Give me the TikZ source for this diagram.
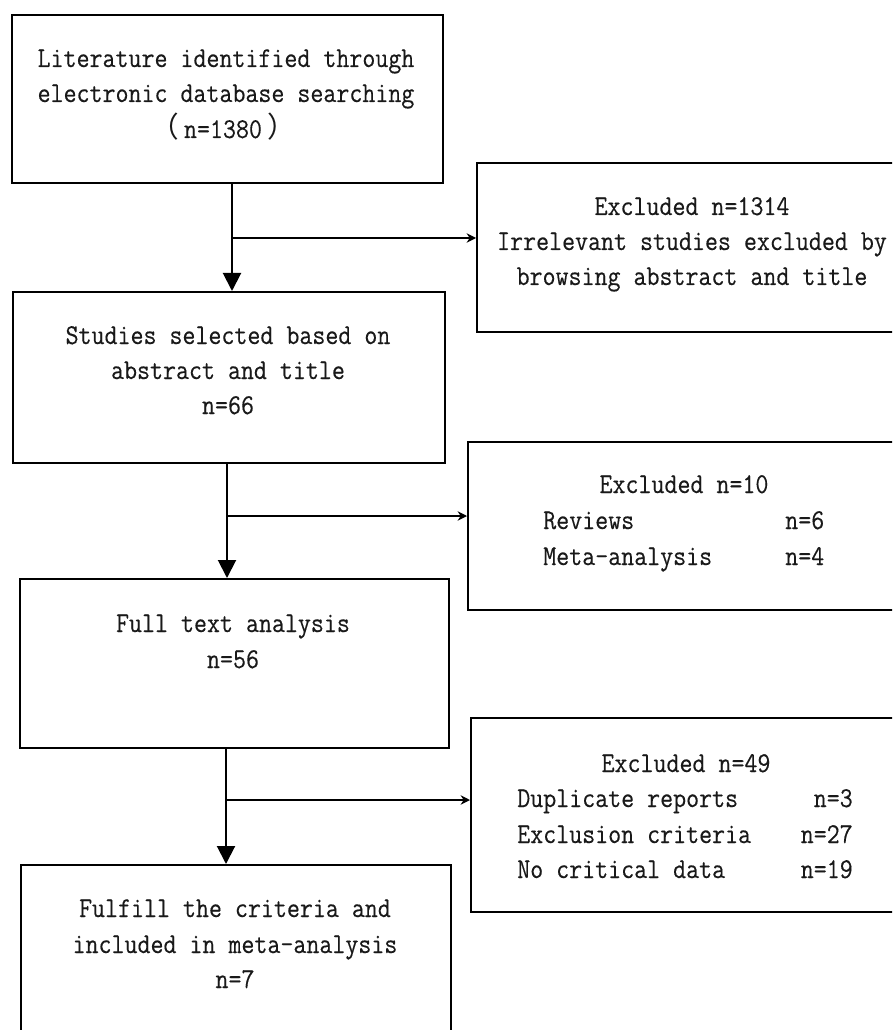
\documentclass[tikz,border=0pt]{standalone}
\usepackage{fontspec}
\newfontfamily\cjk{Noto Sans CJK SC}
\newfontfamily\monofont[FakeStretch=0.88,FakeBold=0.3]{Latin Modern Mono}
\usetikzlibrary{arrows.meta}
\tikzset{
  box/.style={draw=black, line width=1.5pt, inner sep=0pt, fill=white},
  txt/.style={font=\monofont\fontsize{21.5}{26}\selectfont, inner sep=0pt, text=black!90},
  vline/.style={line width=1.5pt, -{Triangle[length=13.5pt,width=13.5pt]}},
  hline/.style={line width=1.5pt, -{Stealth[length=7pt,width=7pt]}}
}
\begin{document}
\begin{tikzpicture}[x=0.75pt,y=-0.75pt]
\useasboundingbox[fill=white] (0,0) rectangle (892,1030);
\clip (0,0) rectangle (892,1030);
% boxes
\node[box, minimum width=323.25pt, minimum height=126pt] (b1) at (227.5,99) {};
\node[box, minimum width=324.75pt, minimum height=126.75pt] (b2) at (693.5,247.5) {};
\node[box, minimum width=324pt, minimum height=128.25pt] (b3) at (229,377.5) {};
\node[box, minimum width=331.5pt, minimum height=126pt] (b4) at (689,526) {};
\node[box, minimum width=321.75pt, minimum height=126.75pt] (b5) at (234.5,663.5) {};
\node[box, minimum width=329.25pt, minimum height=145.5pt] (b6) at (690.5,815) {};
\node[box, minimum width=322.5pt, minimum height=126.75pt] (b7) at (236,949.5) {};
% texts
\node[txt, anchor=base] (t11) at (226,67) {Literature identified through};
\node[txt, anchor=base] (t12) at (226,102) {electronic database searching};
\node[txt, anchor=base] (t13) at (223,138) {{\cjk （}\kern4pt n=1380\kern4pt{\cjk ）}};
\node[txt, anchor=base] (t21) at (692,215) {Excluded n=1314};
\node[txt, anchor=base] (t22) at (692,250) {Irrelevant studies excluded by};
\node[txt, anchor=base] (t23) at (692,285) {browsing abstract and title};
\node[txt, anchor=base] (t31) at (228,344) {Studies selected based on};
\node[txt, anchor=base] (t32) at (228,379) {abstract and title};
\node[txt, anchor=base] (t33) at (228,414) {n=66};
\node[txt, anchor=base] (t41) at (684,493) {Excluded n=10};
\node[txt, anchor=base west] (t42) at (543,529) {Reviews};
\node[txt, anchor=base west] (t43) at (785,529) {n=6};
\node[txt, anchor=base west] (t44) at (543,565) {Meta-analysis};
\node[txt, anchor=base west] (t45) at (785,565) {n=4};
\node[txt, anchor=base] (t51) at (233,632) {Full text analysis};
\node[txt, anchor=base] (t52) at (233,668) {n=56};
\node[txt, anchor=base] (t61) at (686,772) {Excluded n=49};
\node[txt, anchor=base west] (t62) at (517,807) {Duplicate reports};
\node[txt, anchor=base east] (t63) at (853,807) {n=3};
\node[txt, anchor=base west] (t64) at (517,843) {Exclusion criteria};
\node[txt, anchor=base east] (t65) at (853,843) {n=27};
\node[txt, anchor=base west] (t66) at (517,878) {No critical data};
\node[txt, anchor=base east] (t67) at (853,878) {n=19};
\node[txt, anchor=base] (t71) at (235,917) {Fulfill the criteria and};
\node[txt, anchor=base] (t72) at (235,953) {included in meta-analysis};
\node[txt, anchor=base] (t73) at (235,988) {n=7};
% connector coordinates
\coordinate (x1) at (232,0);
\coordinate (x2) at (227,0);
\coordinate (x3) at (226,0);
\coordinate (y1) at (0,238);
\coordinate (y2) at (0,516);
\coordinate (y3) at (0,800);
% connectors
\draw[vline] (b1.south -| x1) -- (b3.north -| x1);
\draw[hline] (x1 |- y1) -- (b2.west |- y1);
\draw[vline] (b3.south -| x2) -- (b5.north -| x2);
\draw[hline] (x2 |- y2) -- (b4.west |- y2);
\draw[vline] (b5.south -| x3) -- (b7.north -| x3);
\draw[hline] (x3 |- y3) -- (b6.west |- y3);
\end{tikzpicture}
\end{document}
